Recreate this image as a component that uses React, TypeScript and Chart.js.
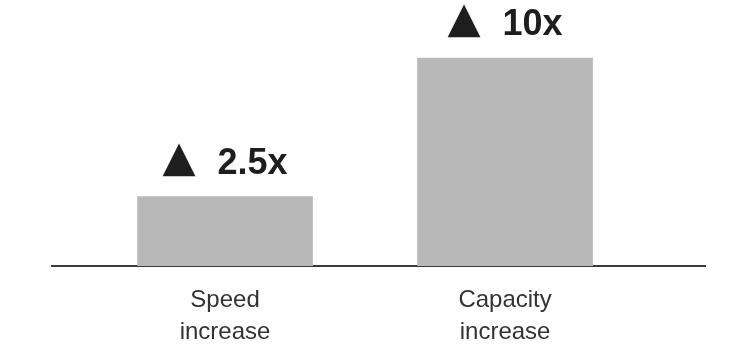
import React, { useEffect, useRef } from "react";
import { Chart, registerables } from "chart.js";

Chart.register(...registerables);

// Data
const categories: string[][] = [["Speed", "increase"], ["Capacity", "increase"]];
const positions: number[] = [1, 2];
// Relative bar heights as drawn (bars are illustrative, not to scale with the labels)
const barHeights: number[] = [1, 3];
const multipliers: string[] = ["2.5x", "10x"];

const FONT = '"Liberation Sans", Arial, Helvetica, sans-serif';

const topLabels = {
  id: "topLabels",
  afterDatasetsDraw(chart: any) {
    const ctx = chart.ctx as CanvasRenderingContext2D;
    const meta = chart.getDatasetMeta(0);
    meta.data.forEach((bar: any, i: number) => {
      const text = multipliers[i];
      ctx.save();
      ctx.fillStyle = "#1e1e1e";
      ctx.textBaseline = "alphabetic";
      ctx.textAlign = "left";
      ctx.font = `bold 36px ${FONT}`;
      const tw = ctx.measureText(text).width;
      ctx.font = `43px "DejaVu Sans", ${FONT}`;
      const tm = ctx.measureText("\u25B2");
      const triInkL = tm.actualBoundingBoxLeft;
      const triInk = tm.actualBoundingBoxLeft + tm.actualBoundingBoxRight;
      const gap = 22;
      const total = triInk + gap + tw;
      const left = bar.x - total / 2;
      const baseY = bar.y - 23;
      ctx.fillText("\u25B2", left + triInkL, baseY + 3 - tm.actualBoundingBoxDescent);
      ctx.font = `bold 36px ${FONT}`;
      ctx.fillText(text, left + triInk + gap, baseY);
      ctx.restore();
    });
  },
};

export default function App() {
  const ref = useRef<HTMLCanvasElement>(null);
  useEffect(() => {
    document.body.style.margin = "0";
    const canvas = ref.current!;
    const chart = new Chart(canvas, {
      type: "bar",
      data: {
        datasets: [
          {
            data: positions.map((p, i) => ({ x: p, y: barHeights[i] })),
            backgroundColor: "#b8b8b8",
            borderWidth: 0,
            barThickness: 175,
          },
        ],
      },
      options: {
        responsive: false,
        animation: false,
        layout: { padding: { left: 52, right: 45, top: 40, bottom: 0 } },
        plugins: { legend: { display: false }, tooltip: { enabled: false } },
        scales: {
          x: {
            type: "linear",
            offset: false,
            min: 0.382,
            max: 2.714,
            afterBuildTicks: (axis: any) => {
              axis.ticks = positions.map((v) => ({ value: v }));
            },
            afterFit: (axis: any) => {
              axis.height = 94;
            },
            ticks: {
              autoSkip: false,
              maxRotation: 0,
              padding: 18,
              color: "#333333",
              font: { family: FONT, size: 24, lineHeight: 1.33 },
              callback: (value: any) => categories[positions.indexOf(Number(value))] as any,
            },
            grid: { display: false, drawTicks: false, offset: false },
            border: { display: true, color: "#3a3a3a", width: 2 },
          },
          y: {
            display: false,
            min: 0,
            max: 3.26,
          },
        },
      },
      plugins: [topLabels],
    });
    return () => chart.destroy();
  }, []);
  return (
    <div style={{ width: 750, height: 360, background: "#ffffff" }}>
      <canvas ref={ref} width={750} height={360} />
    </div>
  );
}
